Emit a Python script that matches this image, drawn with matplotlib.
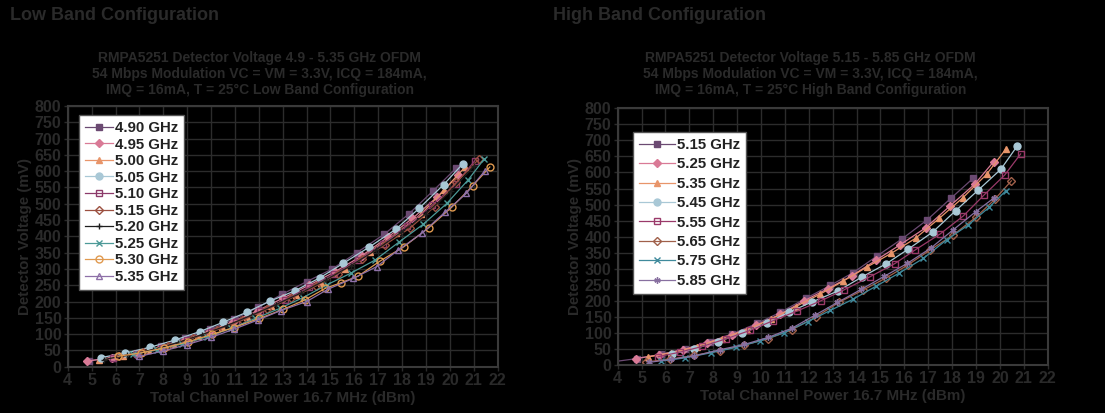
import matplotlib
matplotlib.use("Agg")
import matplotlib.pyplot as plt

plt.rcParams['font.family'] = ['Liberation Sans', 'DejaVu Sans']

# ---- low band data (dBm, mV)
low_names = ["4.90 GHz", "4.95 GHz", "5.00 GHz", "5.05 GHz", "5.10 GHz",
             "5.15 GHz", "5.20 GHz", "5.25 GHz", "5.30 GHz", "5.35 GHz"]
low_p_490 = [4.9, 5.9, 6.9, 7.9, 8.9, 9.95, 10.95, 11.95, 12.97, 14.0, 15.05, 16.1, 17.26, 18.3, 19.3, 20.27]
low_v_490 = [18, 28, 42, 62, 88, 115, 145, 182, 222, 261, 299, 350, 407, 470, 540, 610]
low_p_495 = [4.8, 5.85, 6.85, 7.85, 8.9, 9.9, 10.9, 11.95, 13.0, 14.1, 15.2, 16.3, 17.39, 18.43, 19.47, 20.34]
low_v_495 = [17, 28, 40, 58, 82, 108, 138, 172, 210, 250, 292, 340, 397, 455, 521, 588]
low_p_500 = [5.3, 6.3, 7.35, 8.4, 9.45, 10.45, 11.5, 12.5, 13.55, 14.6, 15.6, 16.65, 17.76, 18.81, 19.76, 20.62]
low_v_500 = [20, 33, 50, 70, 95, 122, 152, 186, 220, 258, 300, 353, 409, 470, 542, 612]
low_p_505 = [5.39, 6.41, 7.46, 8.49, 9.54, 10.49, 11.49, 12.46, 13.51, 14.56, 15.53, 16.6, 17.74, 18.71, 19.74, 20.53]
low_v_505 = [28, 42, 60, 82, 108, 136, 167, 201, 233, 273, 317, 366, 422, 486, 559, 622]
low_p_510 = [5.9, 6.9, 7.95, 9.0, 10.0, 11.05, 12.05, 13.1, 14.1, 15.15, 16.15, 17.2, 18.2, 19.25, 20.25, 21.04]
low_v_510 = [28, 40, 58, 82, 108, 138, 170, 206, 244, 284, 328, 378, 432, 495, 562, 632]
low_p_515 = [6.15, 7.15, 8.2, 9.25, 10.25, 11.3, 12.35, 13.35, 14.4, 15.3, 16.3, 17.3, 18.32, 19.36, 20.27, 21.2]
low_v_515 = [32, 45, 65, 88, 113, 142, 176, 210, 248, 285, 330, 375, 425, 491, 566, 636]
low_p_520 = [5.5, 6.5, 7.55, 8.6, 9.6, 10.65, 11.7, 12.7, 13.75, 14.8, 15.85, 16.9, 17.95, 19.0, 20.05, 21.0]
low_v_520 = [22, 35, 52, 74, 98, 126, 158, 190, 226, 266, 310, 358, 412, 470, 540, 615]
low_p_525 = [6.75, 7.75, 8.8, 9.85, 10.85, 11.85, 12.88, 13.85, 14.84, 15.85, 16.86, 17.88, 18.88, 19.87, 20.76, 21.42]
low_v_525 = [38, 52, 70, 92, 118, 148, 179, 212, 251, 287, 327, 383, 437, 501, 573, 636]
low_p_530 = [6.1, 7.05, 8.05, 9.05, 10.03, 10.95, 12.02, 13.02, 13.93, 14.77, 15.45, 16.16, 17.07, 18.07, 19.12, 20.07, 20.95, 21.67]
low_v_530 = [32, 42, 58, 77, 99, 120, 148, 176, 205, 240, 258, 278, 324, 368, 427, 489, 555, 613]
low_p_535 = [7.0, 8.0, 9.0, 10.0, 10.95, 11.95, 12.91, 14.0, 14.9, 15.95, 16.93, 17.84, 18.85, 19.79, 20.69, 21.46]
low_v_535 = [32, 48, 68, 90, 115, 143, 172, 200, 238, 271, 307, 358, 411, 474, 532, 601]

# ---- high band data
high_names = ["5.15 GHz", "5.25 GHz", "5.35 GHz", "5.45 GHz",
              "5.55 GHz", "5.65 GHz", "5.75 GHz", "5.85 GHz"]
high_p_515 = [3.8, 4.8, 5.8, 6.8, 7.85, 8.8, 9.85, 10.8, 11.88, 12.9, 13.86, 14.86, 15.92, 16.95, 17.97, 18.88]
high_v_515 = [10, 20, 33, 50, 73, 97, 130, 164, 208, 248, 288, 340, 394, 452, 521, 582]
high_p_525 = [4.75, 5.75, 6.75, 7.75, 8.8, 9.8, 10.8, 11.8, 12.8, 13.8, 14.8, 15.81, 16.9, 17.9, 18.95, 19.74]
high_v_525 = [20, 32, 48, 70, 95, 124, 158, 200, 238, 278, 326, 374, 428, 495, 564, 634]
high_p_535 = [5.25, 6.25, 7.3, 8.35, 9.4, 10.4, 11.45, 12.45, 13.45, 14.45, 15.45, 16.47, 17.46, 18.46, 19.44, 20.25]
high_v_535 = [25, 38, 57, 82, 110, 142, 182, 220, 262, 306, 348, 395, 457, 522, 594, 673]
high_p_545 = [6.26, 7.19, 8.2, 9.19, 10.23, 11.18, 12.12, 13.23, 14.24, 15.25, 16.16, 17.18, 18.15, 19.09, 20.04, 20.72]
high_v_545 = [34, 50, 73, 99, 130, 165, 196, 231, 275, 316, 361, 414, 481, 545, 610, 682]
high_p_555 = [5.7, 6.6, 7.55, 8.55, 9.55, 10.5, 11.5, 12.5, 13.47, 14.56, 15.6, 16.44, 17.49, 18.46, 19.34, 20.2, 20.87]
high_v_555 = [26, 40, 58, 82, 108, 138, 168, 200, 234, 275, 316, 358, 408, 464, 530, 592, 658]
high_p_565 = [5.2, 6.2, 7.2, 8.3, 9.3, 10.3, 11.3, 12.3, 13.26, 14.28, 15.25, 16.15, 17.07, 18.04, 18.99, 19.78, 20.48]
high_v_565 = [10, 18, 30, 45, 62, 82, 110, 150, 195, 234, 272, 312, 358, 405, 460, 516, 574]
high_p_575 = [5.8, 6.8, 7.9, 8.95, 9.95, 10.95, 11.95, 12.9, 13.85, 14.8, 15.77, 16.79, 17.77, 18.67, 19.54, 20.25]
high_v_575 = [12, 22, 38, 55, 75, 100, 135, 170, 205, 245, 286, 332, 390, 436, 491, 543]
high_p_585 = [5.3, 6.25, 7.2, 8.3, 9.3, 10.3, 11.3, 12.25, 13.2, 14.2, 15.15, 16.13, 17.1, 18.04, 18.99, 19.76]
high_v_585 = [8, 18, 28, 48, 64, 86, 115, 155, 195, 236, 276, 317, 364, 421, 478, 521]

low_series = [(low_p_490, low_v_490), (low_p_495, low_v_495), (low_p_500, low_v_500),
              (low_p_505, low_v_505), (low_p_510, low_v_510), (low_p_515, low_v_515),
              (low_p_520, low_v_520), (low_p_525, low_v_525), (low_p_530, low_v_530),
              (low_p_535, low_v_535)]
high_series = [(high_p_515, high_v_515), (high_p_525, high_v_525), (high_p_535, high_v_535),
               (high_p_545, high_v_545), (high_p_555, high_v_555), (high_p_565, high_v_565),
               (high_p_575, high_v_575), (high_p_585, high_v_585)]

# style per series: colour, marker, filled
low_styles = [("#6b4a72", "s", True), ("#d97a96", "D", True), ("#e8956a", "^", True),
              ("#a9c8d6", "o", True), ("#8c3a6a", "s", False), ("#9c5040", "D", False),
              ("#1e1e1e", "+", True), ("#4d9a98", "x", True), ("#e09a50", "o", False),
              ("#8e70a8", "^", False)]
high_styles = [("#6b4a72", "s", True), ("#d97a96", "D", True), ("#e8956a", "^", True),
               ("#a9c8d6", "o", True), ("#9a3a6a", "s", False), ("#a0604a", "D", False),
               ("#3f8a9c", "x", True), ("#8870a0", (6, 2, 0), True)]

TXT = "#2a2a2a"
GRID = "#2c2c2c"

fig = plt.figure(figsize=(11.05, 4.13), dpi=100, facecolor="black")


def draw(ax, series, styles, names, leg_anchor, leg_spacing, hlen):
    ax.set_facecolor("black")
    for (p, v), (c, m, filled), name in zip(series, styles, names):
        ms = 5 if m in ("s", "o", "^") else 4.5
        if m == "D":
            ms = 4.2
        ax.plot(p, v, color=c, lw=0.9, marker=m, ms=ms,
                mfc=c if filled else "none", mec=c, mew=1.0, label=name)
    ax.set_xlim(4, 22)
    ax.set_ylim(0, 800)
    ax.set_xticks(range(4, 23))
    ax.set_yticks(range(0, 801, 50))
    ax.grid(True, color=GRID, lw=1.0)
    ax.set_axisbelow(True)
    for s in ax.spines.values():
        s.set_color("#3a3a3a")
        s.set_linewidth(1.5)
    ax.tick_params(colors=TXT, labelcolor=TXT, length=3, width=1, pad=1.5)
    for lab in ax.get_xticklabels() + ax.get_yticklabels():
        lab.set_fontsize(11.5)
        lab.set_fontweight("bold")
    ax.set_xlabel("Total Channel Power 16.7 MHz (dBm)", color=TXT, fontsize=10.9,
                  fontweight="bold", labelpad=2)
    ax.set_ylabel("Detector Voltage (mV)", color=TXT, fontsize=10.9,
                  fontweight="bold", labelpad=2)
    leg = ax.legend(loc="upper left", bbox_to_anchor=leg_anchor, borderaxespad=0,
                    frameon=True, fancybox=False, handlelength=hlen, handletextpad=0.15,
                    labelspacing=leg_spacing, borderpad=0.4,
                    prop={"weight": "bold", "size": 10.8})
    leg.get_frame().set_facecolor("white")
    leg.get_frame().set_edgecolor("#555555")
    leg.get_frame().set_linewidth(1.0)
    leg.get_frame().set_alpha(1)
    for t in leg.get_texts():
        t.set_color("#222222")


ax1 = fig.add_axes([0.0613, 0.1121, 0.3891, 0.6312])
draw(ax1, low_series, low_styles, low_names, (0.026, 0.9655), 0.17, 1.85)
ax2 = fig.add_axes([0.559, 0.1162, 0.3891, 0.6215])
draw(ax2, high_series, high_styles, high_names, (0.0356, 0.9077), 0.36, 2.4)

# panel headings
fig.text(10 / 1105, 1 - 15 / 413, "Low Band Configuration", color=TXT, fontsize=13,
         fontweight="bold", ha="left", va="center")
fig.text(553 / 1105, 1 - 15 / 413, "High Band Configuration", color=TXT, fontsize=13,
         fontweight="bold", ha="left", va="center")

fig.text(259.5 / 1105, 1 - 74 / 413,
         "RMPA5251 Detector Voltage 4.9 - 5.35 GHz OFDM\n"
         "54 Mbps Modulation VC = VM = 3.3V, ICQ = 184mA,\n"
         "IMQ = 16mA, T = 25\u00b0C Low Band Configuration",
         color=TXT, fontsize=10, fontweight="bold", ha="center", va="center",
         linespacing=1.2)
fig.text(810.5 / 1105, 1 - 74 / 413,
         "RMPA5251 Detector Voltage 5.15 - 5.85 GHz OFDM\n"
         "54 Mbps Modulation VC = VM = 3.3V, ICQ = 184mA,\n"
         "IMQ = 16mA, T = 25\u00b0C High Band Configuration",
         color=TXT, fontsize=10, fontweight="bold", ha="center", va="center",
         linespacing=1.2)

fig.savefig("out.png", dpi=100, facecolor="black")
